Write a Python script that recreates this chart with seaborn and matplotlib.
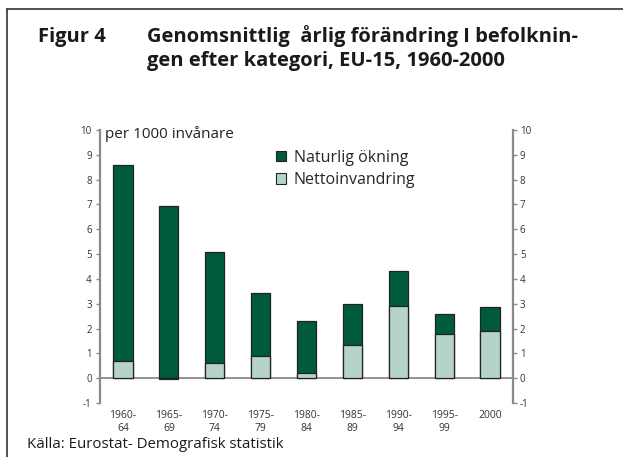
import pandas as pd
import seaborn as sns
import matplotlib.pyplot as plt
from matplotlib.patches import Patch
from matplotlib.lines import Line2D

# Average annual population change by category, EU-15, per 1000 inhabitants
periods = ["1960-\n64", "1965-\n69", "1970-\n74", "1975-\n79", "1980-\n84",
           "1985-\n89", "1990-\n94", "1995-\n99", "2000"]
naturlig = [7.9, 6.95, 4.5, 2.55, 2.1, 1.65, 1.4, 0.8, 0.95]
netto = [0.7, -0.05, 0.6, 0.9, 0.2, 1.35, 2.9, 1.8, 1.9]

df = pd.DataFrame({"period": periods, "naturlig": naturlig, "netto": netto})
# stacked: natural increase sits on top of positive net migration
df["topp"] = df["naturlig"] + df["netto"].clip(lower=0)

dark = "#005a3e"
light = "#b5d3ca"
grey = "#8a8a8a"

sns.set_style("white")
plt.rcParams["font.family"] = ["Open Sans", "DejaVu Sans"]
plt.rcParams["axes.unicode_minus"] = False

W, H = 623, 457
fig = plt.figure(figsize=(W / 100, H / 100), dpi=100)
ax = fig.add_axes([100 / W, 1 - 403 / H, 413 / W, 273 / H])

sns.barplot(data=df, x="period", y="topp", color=dark, saturation=1,
            width=0.42, edgecolor="#222222", linewidth=0.9, errorbar=None, ax=ax)
sns.barplot(data=df, x="period", y="netto", color=light, saturation=1,
            width=0.42, edgecolor="#222222", linewidth=0.9, errorbar=None, ax=ax)

ax.set_ylim(-1, 10)
ax.set_xlim(-0.5, len(periods) - 0.5)
ax.set_yticks(range(-1, 11))
ax.set_xlabel("")
ax.set_ylabel("")
ax.axhline(0, color=grey, lw=1.3, zorder=0.5)

for s in ["top", "right", "bottom"]:
    ax.spines[s].set_visible(False)
ax.spines["left"].set_color(grey)
ax.spines["left"].set_linewidth(1.6)
ax.tick_params(axis="y", direction="out", length=3, width=1, color=grey,
               labelsize=7, labelcolor="#333333", pad=3, left=True)
ax.tick_params(axis="x", length=0, labelsize=7.5, labelcolor="#333333", pad=5)

tw = ax.twinx()
tw.set_ylim(-1, 10)
tw.set_yticks(range(-1, 11))
for s in ["top", "left", "bottom"]:
    tw.spines[s].set_visible(False)
tw.spines["right"].set_color(grey)
tw.spines["right"].set_linewidth(1.6)
tw.tick_params(axis="y", direction="out", length=3, width=1, color=grey,
               labelsize=7, labelcolor="#333333", pad=2, right=True)

ax.text(0.012, 9.85, "per 1000 invånare", transform=ax.get_yaxis_transform(),
        fontsize=11, color="#222222", va="center", ha="left")

handles = [Patch(facecolor=dark, edgecolor="#222222", lw=0.8, label="Naturlig ökning"),
           Patch(facecolor=light, edgecolor="#222222", lw=0.8, label="Nettoinvandring")]
fig.legend(handles=handles, loc="upper left", bbox_to_anchor=(276 / W, 1 - 150 / H),
           frameon=False, fontsize=11.5, handlelength=0.6, handleheight=0.6,
           handletextpad=0.5, labelspacing=0.38, borderaxespad=0, borderpad=0)

# title block
title_kw = dict(fontsize=14.5, fontweight="bold", color="#1a1a1a",
                ha="left", va="baseline")
fig.text(38 / W, 1 - 42 / H, "Figur 4", **title_kw)
fig.text(147 / W, 1 - 42 / H, "Genomsnittlig  årlig förändring I befolknin-", **title_kw)
fig.text(147 / W, 1 - 66 / H, "gen efter kategori, EU-15, 1960-2000", **title_kw)

fig.text(27 / W, 1 - 444 / H, "Källa: Eurostat- Demografisk statistik",
         fontsize=10.8, color="#1a1a1a", ha="left", va="center")

# page frame (left and top rules)
fig.add_artist(Line2D([7 / W, 7 / W], [0, 1 - 9 / H], transform=fig.transFigure,
                      color="#333333", lw=1.2))
fig.add_artist(Line2D([7 / W, 1], [1 - 9 / H, 1 - 9 / H], transform=fig.transFigure,
                      color="#333333", lw=1.2))

fig.savefig("out.png", dpi=100)
